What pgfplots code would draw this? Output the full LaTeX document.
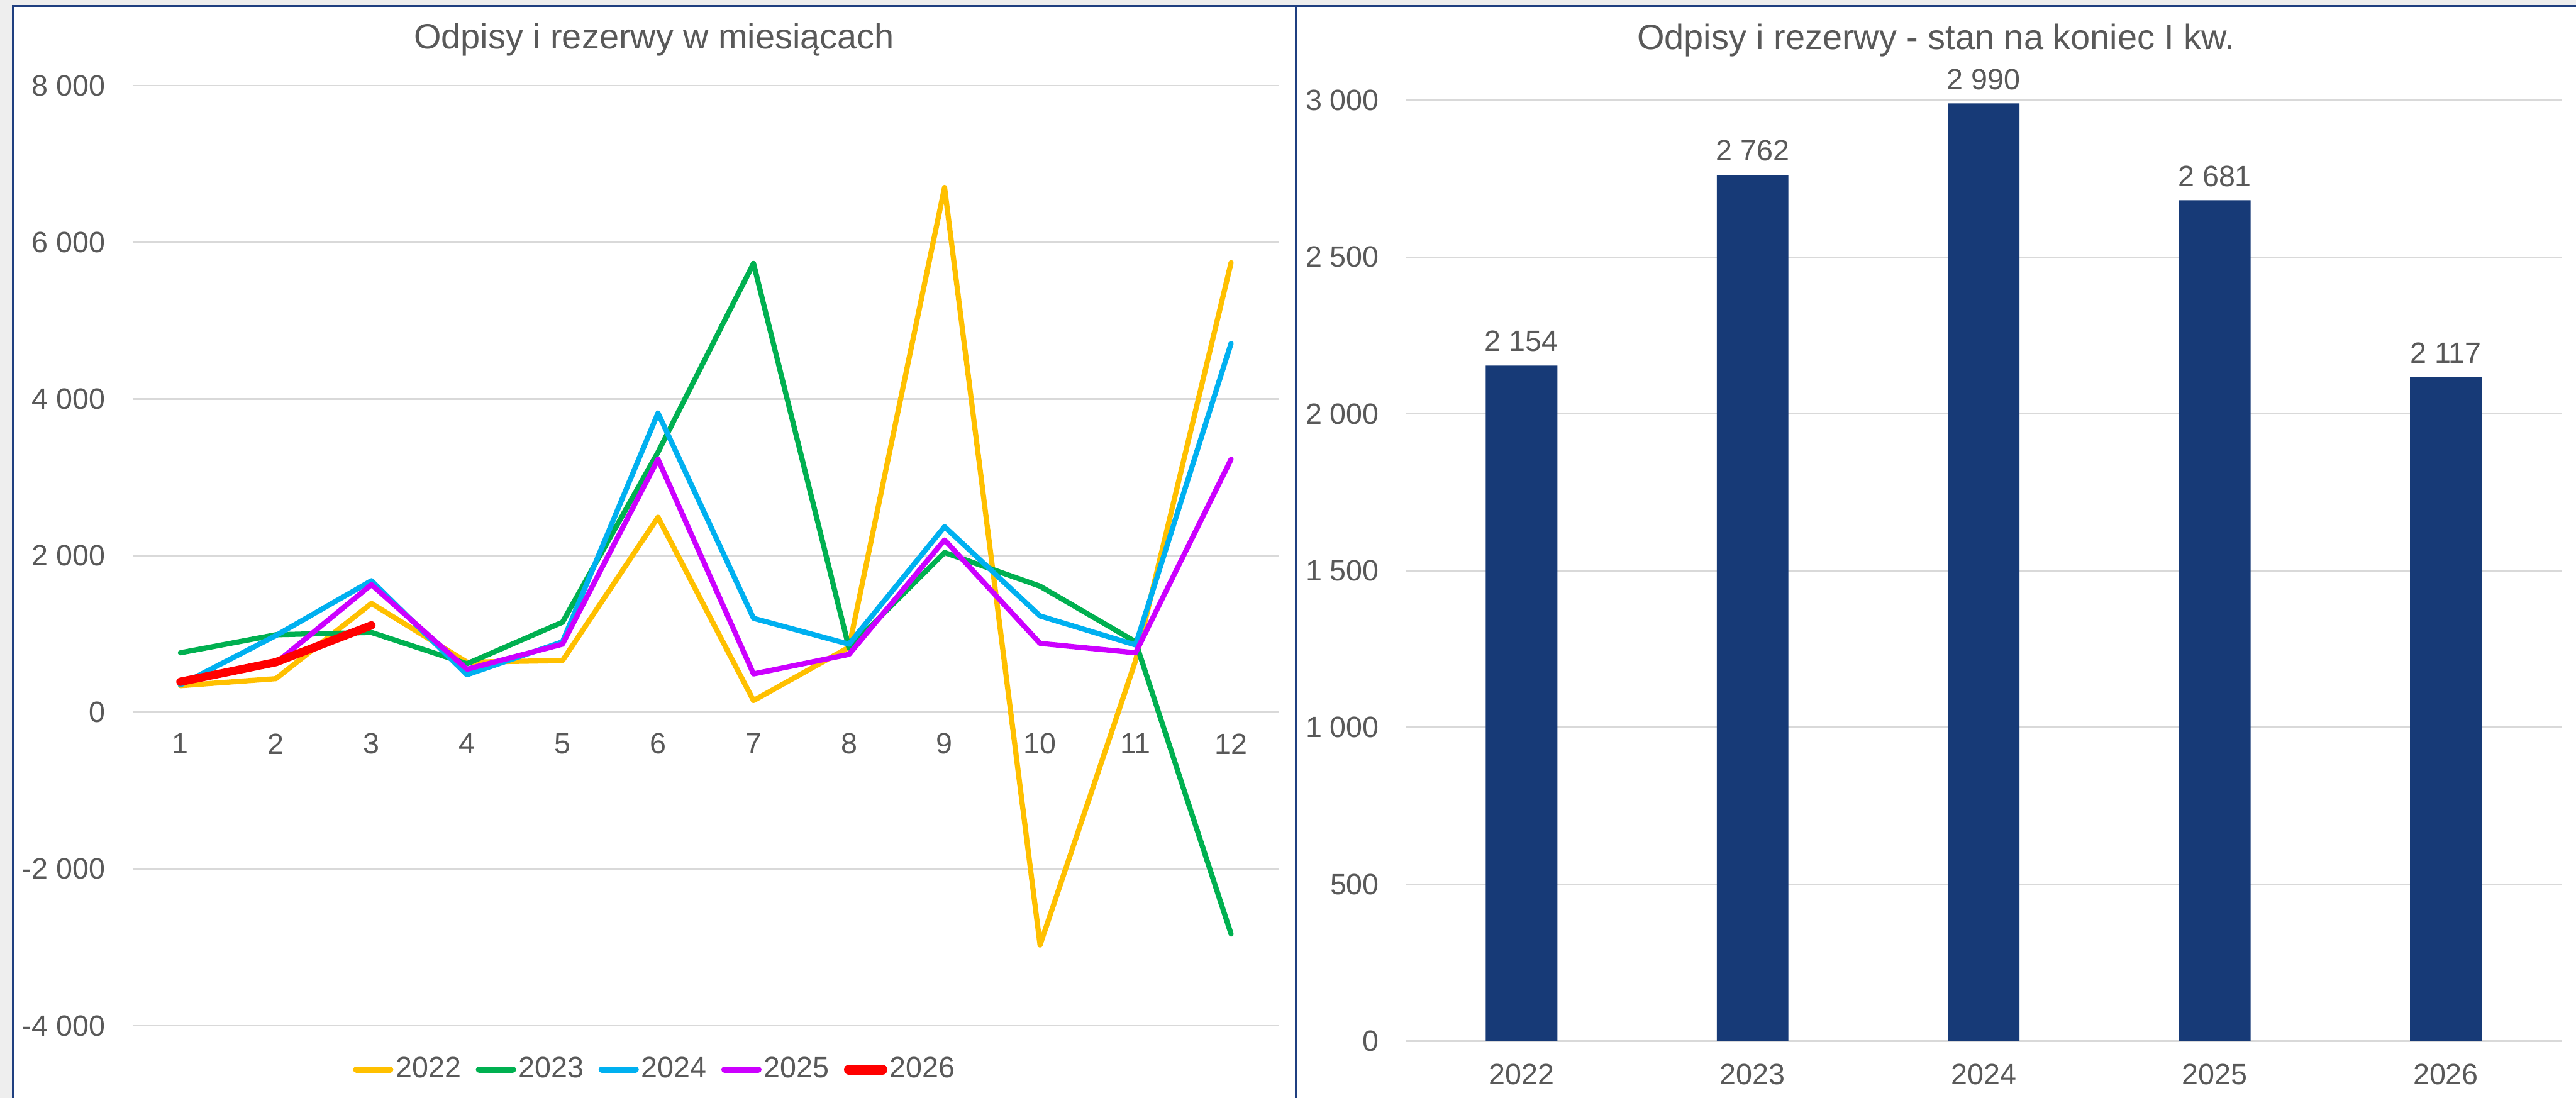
\documentclass[border=0pt]{standalone}
\usepackage{fontspec}
\setmainfont{Liberation Sans}
\usepackage{pgfplots}
\pgfplotsset{compat=1.18}
\definecolor{txt}{HTML}{595959}
\definecolor{grd}{HTML}{D9D9D9}
\definecolor{c22}{HTML}{FFC000}
\definecolor{c23}{HTML}{00B050}
\definecolor{c24}{HTML}{00B0F0}
\definecolor{c25}{HTML}{CC00FF}
\definecolor{c26}{HTML}{FF0000}
\definecolor{navy}{HTML}{173A77}
\definecolor{frm}{HTML}{1F3F80}
\definecolor{bgc}{HTML}{EEEEEE}
\begin{document}
\begin{tikzpicture}
\fill[bgc] (0pt,0pt) rectangle (842.8pt,359.2pt);
\fill[white] (4.2pt,0pt) rectangle (842.8pt,357.2pt);
\draw[frm, line width=0.5pt] (4.2pt,0pt) -- (4.2pt,357.2pt) -- (842.8pt,357.2pt);
\draw[frm, line width=0.5pt] (424pt,0pt) -- (424pt,357.2pt);
\node[text=txt, font=\fontsize{11.5}{13}\selectfont] at (214pt,346.2pt) {Odpisy i rezerwy w miesiącach};
\node[text=txt, font=\fontsize{11.5}{13}\selectfont] at (633.4pt,346pt) {Odpisy i rezerwy - stan na koniec I kw.};
\begin{axis}[
  at={(43.4pt,23.6pt)}, anchor=south west, scale only axis,
  width=375pt, height=307.6pt,
  xmin=0.5, xmax=12.5, ymin=-4000, ymax=8000,
  axis line style={draw=none}, major tick length=0pt,
  ymajorgrids, grid style={grd, line width=0.5pt},
  xtick={1,2,3,4,5,6,7,8,9,10,11,12},
  xticklabels={1,2,3,4,5,6,7,8,9,10,11,12},
  ytick={-4000,-2000,0,2000,4000,6000,8000},
  yticklabels={-4 000,-2 000,0,2 000,4 000,6 000,8 000},
  tick label style={font=\fontsize{9.6}{11}\selectfont, text=txt},
  yticklabel style={anchor=east, inner sep=0pt, xshift=-8.8pt},
  xticklabel style={anchor=center, inner sep=0pt, yshift=92.2pt},
  legend columns=5,
  legend style={at={(0.456,-0.0468)}, anchor=center, draw=none, fill=none,
    font=\fontsize{9.6}{11}\selectfont, text=txt,
    nodes={inner sep=0.8pt},
    /tikz/every even column/.append style={column sep=4pt}},
  legend image code/.code={\draw[#1, line cap=round] (0pt,0pt) -- (11pt,0pt);},
  every axis plot/.append style={line join=round, line cap=round, legend image post style={line width=2.2pt}},
]
\addplot[c22, line width=1.7pt] coordinates {(1,340) (2,430) (3,1390) (4,640) (5,660) (6,2490) (7,150) (8,830) (9,6700) (10,-2970) (11,660) (12,5740)};
\addlegendentry{2022}
\addplot[c23, line width=1.7pt] coordinates {(1,760) (2,990) (3,1020) (4,620) (5,1150) (6,3320) (7,5730) (8,820) (9,2040) (10,1610) (11,900) (12,-2830)};
\addlegendentry{2023}
\addplot[c24, line width=1.7pt] coordinates {(1,350) (2,980) (3,1680) (4,480) (5,900) (6,3820) (7,1200) (8,870) (9,2370) (10,1230) (11,860) (12,4710)};
\addlegendentry{2024}
\addplot[c25, line width=1.7pt] coordinates {(1,380) (2,630) (3,1630) (4,550) (5,870) (6,3230) (7,490) (8,740) (9,2200) (10,880) (11,760) (12,3230)};
\addlegendentry{2025}
\addplot[c26, line width=2.7pt, legend image post style={line width=3.2pt}] coordinates {(1,390) (2,640) (3,1110)};
\addlegendentry{2026}
\end{axis}
\begin{axis}[
  at={(460pt,18.6pt)}, anchor=south west, scale only axis,
  width=378pt, height=307.8pt,
  xmin=-0.5, xmax=4.5, ymin=0, ymax=3000,
  axis line style={draw=none}, major tick length=0pt,
  ymajorgrids, grid style={grd, line width=0.5pt},
  xtick={0,1,2,3,4},
  xticklabels={2022,2023,2024,2025,2026},
  ytick={0,500,1000,1500,2000,2500,3000},
  yticklabels={0,500,1 000,1 500,2 000,2 500,3 000},
  tick label style={font=\fontsize{9.6}{11}\selectfont, text=txt},
  yticklabel style={anchor=east, inner sep=0pt, xshift=-8.6pt},
  xticklabel style={anchor=center, inner sep=0pt, yshift=-11pt},
  ybar, bar width=0.31,
  point meta=explicit symbolic,
  nodes near coords,
  nodes near coords style={font=\fontsize{9.6}{11}\selectfont, text=txt, anchor=south, inner sep=0pt, yshift=4.3pt},
]
\addplot[fill=navy, draw=none] coordinates {(0,2154) [2 154] (1,2762) [2 762] (2,2990) [2 990] (3,2681) [2 681] (4,2117) [2 117]};
\end{axis}
\pgfresetboundingbox
\useasboundingbox (0pt,0pt) rectangle (842.8pt,359.2pt);
\end{tikzpicture}
\end{document}
